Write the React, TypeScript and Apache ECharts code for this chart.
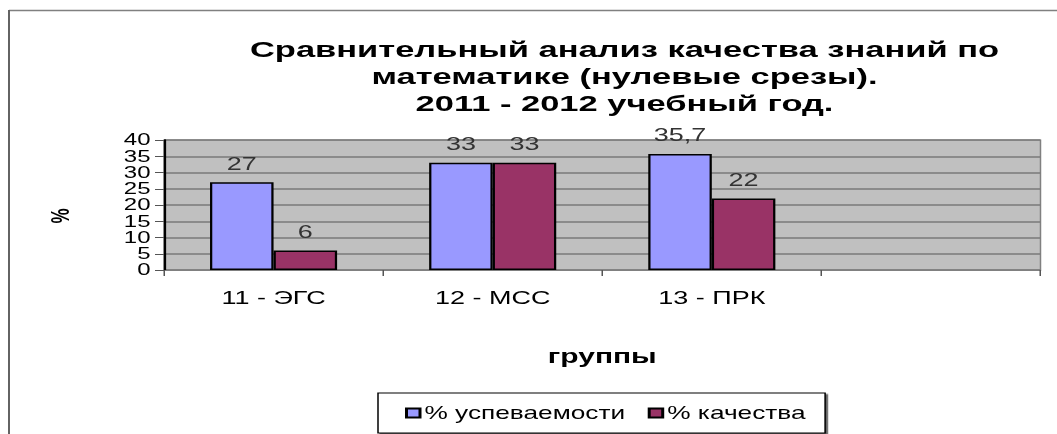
import React, { useEffect, useRef } from "react";
import * as echarts from "echarts";

const categories = ["11 - ЭГС", "12 - МСС", "13 - ПРК", ""];
const uspevaemost = [27, 33, 35.7, null];
const kachestvo = [6, 33, 22, null];
const yTicks = { min: 0, max: 40, interval: 5 };

const titleText =
  "Сравнительный анализ качества знаний по\nматематике (нулевые срезы).\n2011 - 2012 учебный год.";

const S = 1.5; // horizontal stretch of the original picture
const W = 1057 / S;
const H = 434;
const FONT = "'Liberation Sans', Arial, sans-serif";

export default function App() {
  const ref = useRef<HTMLDivElement>(null);
  useEffect(() => {
    if (!ref.current) return;
    const chart = echarts.init(ref.current, null, { renderer: "svg" });
    const labelFmt = (p: any) =>
      p.value == null ? "" : String(p.value).replace(".", ",");
    chart.setOption({
      animation: false,
      backgroundColor: "#ffffff",
      textStyle: { fontFamily: FONT },
      title: {
        text: titleText,
        left: 617 / S,
        top: 30,
        textAlign: "center",
        textStyle: {
          fontFamily: FONT,
          fontSize: 23,
          fontWeight: "bold",
          color: "#000",
          lineHeight: 27,
        },
      },
      graphic: [
        {
          type: "line",
          shape: { x1: 9 / S, y1: 10.5, x2: W, y2: 10.5 },
          style: { stroke: "#808080", lineWidth: 1.5 },
        },
        {
          type: "line",
          shape: { x1: 9 / S, y1: 10, x2: 9 / S, y2: H },
          style: { stroke: "#606060", lineWidth: 1.3 },
        },
        {
          type: "text",
          x: 60 / S,
          y: 216,
          rotation: Math.PI / 2,
          style: {
            text: "%",
            font: `bold 17px ${FONT}`,
            fill: "#000",
            textAlign: "center",
            textVerticalAlign: "middle",
          },
        },
      ],
      legend: {
        left: 378 / S,
        top: 393,
        orient: "horizontal",
        icon: "rect",
        itemWidth: 9,
        itemHeight: 9,
        itemGap: 15,
        padding: [11, 13, 11, 18],
        borderColor: "#000",
        borderWidth: 1,
        shadowColor: "rgba(0,0,0,0.6)",
        shadowOffsetX: 1.5,
        shadowOffsetY: 1.5,
        backgroundColor: "#fff",
        textStyle: { fontFamily: FONT, fontSize: 17.5, color: "#000", padding: [0, 0, 0, -2] },
        data: ["% успеваемости", "% качества"],
      },
      grid: {
        left: 164 / S,
        right: W - 1040 / S,
        top: 140,
        bottom: H - 270,
        show: true,
        backgroundColor: "#c0c0c0",
        borderColor: "#808080",
        borderWidth: 1,
      },
      xAxis: {
        type: "category",
        data: categories,
        axisLine: { lineStyle: { color: "#808080", width: 1 } },
        axisTick: { show: true, length: 6, lineStyle: { color: "#555" } },
        axisLabel: {
          fontFamily: FONT,
          fontSize: 18,
          color: "#000",
          margin: 19,
        },
        name: "группы",
        nameLocation: "middle",
        nameGap: 76,
        nameTextStyle: {
          fontFamily: FONT,
          fontSize: 20,
          fontWeight: "bold",
          color: "#000",
        },
      },
      yAxis: {
        type: "value",
        min: yTicks.min,
        max: yTicks.max,
        interval: yTicks.interval,
        axisLine: { show: true, lineStyle: { color: "#000", width: 1.5 } },
        axisTick: { show: true, length: 6, lineStyle: { color: "#555" } },
        axisLabel: {
          fontFamily: FONT,
          fontSize: 16,
          lineHeight: 15,
          color: "#000",
          margin: 9,
          showMinLabel: true,
          showMaxLabel: true,
        },
        splitLine: { show: true, lineStyle: { color: "#7a7a7a", width: 1.6 } },
      },
      series: [
        {
          name: "% успеваемости",
          type: "bar",
          data: uspevaemost,
          barGap: "0%",
          barCategoryGap: "42%",
          itemStyle: { color: "#9999ff", borderColor: "#000", borderWidth: 1.5 },
          label: {
            show: true,
            position: "top",
            distance: 10,
            fontFamily: FONT,
            fontSize: 18,
            color: "#333",
            formatter: labelFmt,
          },
        },
        {
          name: "% качества",
          type: "bar",
          data: kachestvo,
          itemStyle: { color: "#993366", borderColor: "#000", borderWidth: 1.5 },
          label: {
            show: true,
            position: "top",
            distance: 10,
            fontFamily: FONT,
            fontSize: 18,
            color: "#333",
            formatter: labelFmt,
          },
        },
      ],
    });
    return () => chart.dispose();
  }, []);
  return (
    <div
      ref={ref}
      style={{
        position: "absolute",
        left: 0,
        top: 0,
        width: W,
        height: H,
        transform: `scaleX(${S})`,
        transformOrigin: "0 0",
      }}
    />
  );
}
